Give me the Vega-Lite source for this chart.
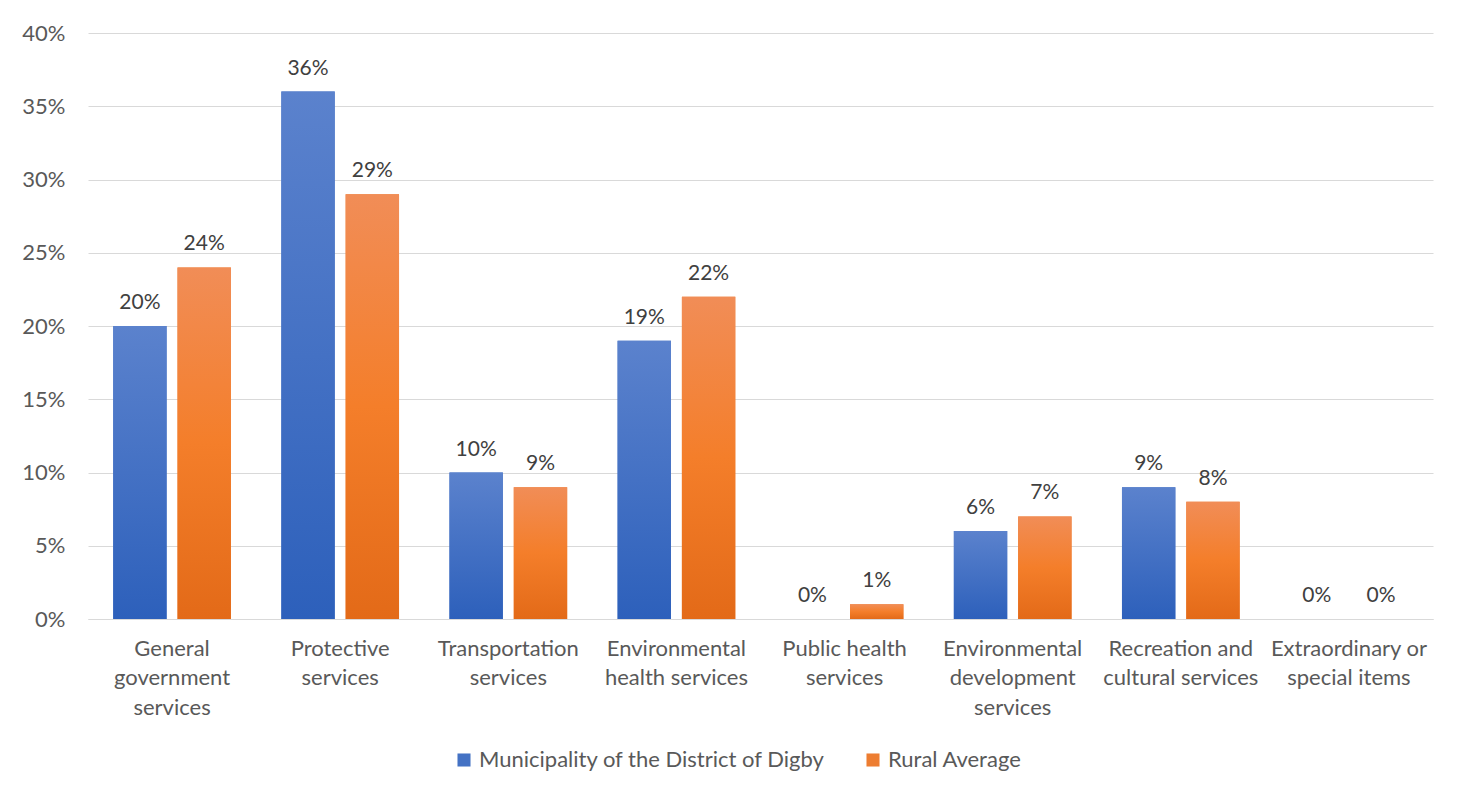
{
  "$schema": "https://vega.github.io/schema/vega-lite/v6.json",
  "width": 1345,
  "height": 586,
  "autosize": {"type": "none"},
  "padding": {"left": 88, "top": 33, "right": 32, "bottom": 178},
  "background": "white",
  "config": {
    "font": "Lato",
    "view": {"stroke": null},
    "axis": {"labelFont": "Lato", "labelColor": "#595959", "labelFontSize": 22}
  },
  "data": {
    "values": [
      {"category": "General government services", "series": "Municipality of the District of Digby", "value": 0.20},
      {"category": "General government services", "series": "Rural Average", "value": 0.24},
      {"category": "Protective services", "series": "Municipality of the District of Digby", "value": 0.36},
      {"category": "Protective services", "series": "Rural Average", "value": 0.29},
      {"category": "Transportation services", "series": "Municipality of the District of Digby", "value": 0.10},
      {"category": "Transportation services", "series": "Rural Average", "value": 0.09},
      {"category": "Environmental health services", "series": "Municipality of the District of Digby", "value": 0.19},
      {"category": "Environmental health services", "series": "Rural Average", "value": 0.22},
      {"category": "Public health services", "series": "Municipality of the District of Digby", "value": 0.0},
      {"category": "Public health services", "series": "Rural Average", "value": 0.01},
      {"category": "Environmental development services", "series": "Municipality of the District of Digby", "value": 0.06},
      {"category": "Environmental development services", "series": "Rural Average", "value": 0.07},
      {"category": "Recreation and cultural services", "series": "Municipality of the District of Digby", "value": 0.09},
      {"category": "Recreation and cultural services", "series": "Rural Average", "value": 0.08},
      {"category": "Extraordinary or special items", "series": "Municipality of the District of Digby", "value": 0.0},
      {"category": "Extraordinary or special items", "series": "Rural Average", "value": 0.0}
    ]
  },
  "encoding": {
    "x": {
      "field": "category",
      "type": "nominal",
      "sort": null,
      "scale": {"paddingInner": 0.3, "paddingOuter": 0.15},
      "axis": {
        "title": null,
        "labelAngle": 0,
        "ticks": false,
        "domainColor": "#D9D9D9",
        "domainWidth": 1,
        "labelPadding": 19,
        "labelBaseline": "top",
        "labelLineHeight": 29.5,
        "labelLimit": 300,
        "labelExpr": "{'General government services': ['General', 'government', 'services'], 'Protective services': ['Protective', 'services'], 'Transportation services': ['Transportation', 'services'], 'Environmental health services': ['Environmental', 'health services'], 'Public health services': ['Public health', 'services'], 'Environmental development services': ['Environmental', 'development', 'services'], 'Recreation and cultural services': ['Recreation and', 'cultural services'], 'Extraordinary or special items': ['Extraordinary or', 'special items']}[datum.label]"
      }
    },
    "xOffset": {
      "field": "series",
      "type": "nominal",
      "scale": {"paddingInner": 0.17, "domain": ["Municipality of the District of Digby", "Rural Average"]}
    },
    "y": {
      "field": "value",
      "type": "quantitative",
      "scale": {"domain": [0, 0.4]},
      "axis": {
        "title": null,
        "format": ".0%",
        "values": [0, 0.05, 0.1, 0.15, 0.2, 0.25, 0.3, 0.35, 0.4],
        "domain": false,
        "ticks": false,
        "labelPadding": 23,
        "gridColor": "#D9D9D9",
        "gridWidth": 1
      }
    }
  },
  "layer": [
    {
      "mark": {"type": "bar"},
      "encoding": {
        "color": {
          "field": "series",
          "type": "nominal",
          "scale": {
            "domain": ["Municipality of the District of Digby", "Rural Average"],
            "range": ["#4472C4", "#ED7D31"]
          },
          "legend": {
            "title": null,
            "orient": "none",
            "direction": "horizontal",
            "legendX": 365,
            "legendY": 716,
            "symbolType": "square",
            "symbolSize": 170,
            "symbolStrokeWidth": 0,
            "labelFontSize": 22,
            "labelColor": "#595959",
            "labelFont": "Lato",
            "labelOffset": 4,
            "labelLimit": 500,
            "columnPadding": 36
          }
        }
      }
    },
    {
      "transform": [{"filter": "datum.series === 'Municipality of the District of Digby'"}],
      "mark": {
        "type": "bar",
        "color": {"gradient": "linear", "x1": 0, "y1": 0, "x2": 0, "y2": 1, "stops": [{"offset": 0, "color": "#5B82CD"}, {"offset": 1, "color": "#2D60BB"}]}
      }
    },
    {
      "transform": [{"filter": "datum.series === 'Rural Average'"}],
      "mark": {
        "type": "bar",
        "color": {"gradient": "linear", "x1": 0, "y1": 0, "x2": 0, "y2": 1, "stops": [{"offset": 0, "color": "#F18D57"}, {"offset": 0.5, "color": "#F47E2A"}, {"offset": 1, "color": "#E36A18"}]}
      }
    },
    {
      "mark": {"type": "text", "baseline": "bottom", "dy": -13, "fontSize": 21, "color": "#404040", "font": "Lato"},
      "encoding": {
        "text": {"field": "value", "type": "quantitative", "format": ".0%"}
      }
    }
  ]
}
